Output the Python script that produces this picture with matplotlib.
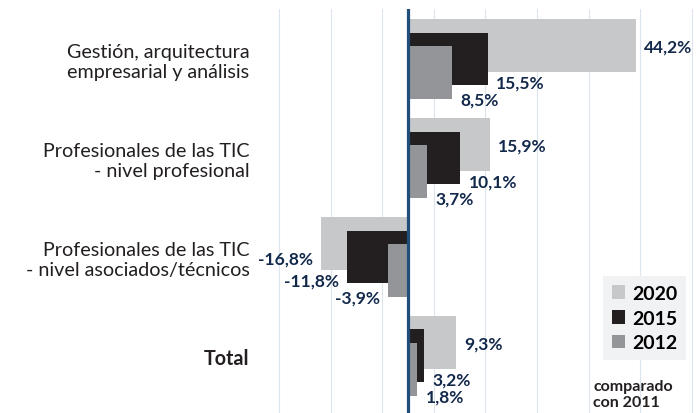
import numpy as np
import matplotlib.pyplot as plt
from matplotlib.patches import Patch

plt.rcParams['font.family'] = ['Lato', 'DejaVu Sans']

categories = ["Gestión, arquitectura\nempresarial y análisis",
              "Profesionales de las TIC\n- nivel profesional",
              "Profesionales de las TIC\n- nivel asociados/técnicos",
              "Total"]
years = ["2020", "2015", "2012"]
v2020 = [44.2, 15.9, -16.8, 9.3]
v2015 = [15.5, 10.1, -11.8, 3.2]
v2012 = [8.5, 3.7, -3.9, 1.8]
labels2020 = ["44,2%", "15,9%", "-16,8%", "9,3%"]
labels2015 = ["15,5%", "10,1%", "-11,8%", "3,2%"]
labels2012 = ["8,5%", "3,7%", "-3,9%", "1,8%"]
note = "comparado\ncon 2011"

colors = ["#C7C8CA", "#231F20", "#939598"]
navy = "#13294B"
series = [v2020, v2015, v2012]
series_labels = [labels2020, labels2015, labels2012]

fig = plt.figure(figsize=(6.99, 4.14), dpi=100)
ax = fig.add_axes([255 / 699, 0, 444 / 699, 404 / 414])

y = np.arange(len(categories))
h = 0.535
shift = 0.136
# where the value label sits on each bar (fraction of height below centre)
label_pos = [0.02, 0.5 - 0.06, 0.5 + 0.01]

for k, (vals, labs) in enumerate(zip(series, series_labels)):
    yy = y + (k - 1) * shift
    ax.barh(yy, vals, height=h, color=colors[k], zorder=2 + k)
    for yi, v, lab in zip(yy, vals, labs):
        ty = yi + label_pos[k] * h
        if k == 0 and v < 0:
            ty = yi + 0.28 * h
        ax.annotate(lab, (v, ty), xytext=(6 if v > 0 else -6, 0),
                    textcoords="offset points", va="center",
                    ha="left" if v > 0 else "right",
                    fontsize=12.5, fontweight="bold", color=navy, zorder=10)

ax.axvline(0, color="#1F4E7A", lw=2.3, zorder=8)

for gx in np.arange(-25, 60, 10):
    ax.axvline(gx, color="#DCE4EE", lw=0.8, zorder=0)

ax.set_xlim(-29.65, 56.4)
ax.set_ylim(3.576, -0.505)
ax.set_xticks([])
ax.set_yticks(y)
ax.set_yticklabels(categories, fontsize=14.2, color="#231F20")
ax.get_yticklabels()[-1].set_fontweight("bold")
ax.tick_params(axis="y", length=0, pad=4)
for s in ax.spines.values():
    s.set_visible(False)

handles = [Patch(facecolor=c, edgecolor="none") for c in colors]
leg = fig.legend(handles, years, loc="upper left",
                 bbox_to_anchor=(603 / 699, 1 - 277 / 414),
                 frameon=True, fancybox=False, facecolor="#F1F2F3",
                 edgecolor="none", framealpha=1,
                 prop={"weight": "bold", "size": 14},
                 handlelength=0.7, handleheight=0.7, handletextpad=0.35,
                 labelspacing=0.4, borderpad=0.45, borderaxespad=0)
fig.text(593 / 699, 1 - 380 / 414, note, ha="left", va="top",
         fontsize=11.5, fontweight="bold", color="#231F20", linespacing=1.2)

fig.savefig("out.png", dpi=100)
